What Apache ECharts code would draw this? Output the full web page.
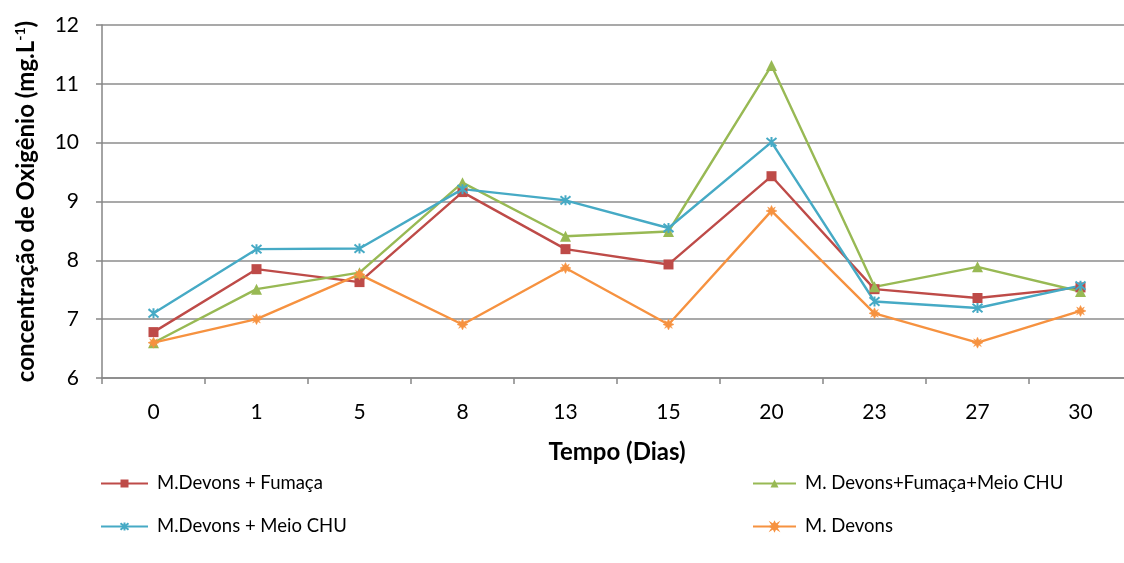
<!DOCTYPE html>
<html>
<head>
<meta charset="utf-8">
<script src="https://cdn.jsdelivr.net/npm/echarts@6/dist/echarts.min.js"></script>
<style>
  html, body { margin: 0; padding: 0; background: #ffffff; }
  #chart { width: 1124px; height: 563px; }
</style>
</head>
<body>
<div id="chart"></div>
<script>
// Sampling days
const days = ['0', '1', '5', '8', '13', '15', '20', '23', '27', '30'];

// Dissolved oxygen (mg/L) per treatment
const fumaca = [6.78, 7.85, 7.63, 9.16, 8.19, 7.93, 9.43, 7.51, 7.36, 7.54];
const fumacaMeioChu = [6.60, 7.51, 7.79, 9.32, 8.41, 8.49, 11.31, 7.55, 7.89, 7.47];
const meioChu = [7.10, 8.19, 8.20, 9.21, 9.02, 8.55, 10.01, 7.30, 7.19, 7.57];
const devons = [6.60, 7.00, 7.76, 6.91, 7.87, 6.91, 8.84, 7.10, 6.60, 7.14];

const seriesNames = [
  'M.Devons + Fumaça',
  'M. Devons+Fumaça+Meio CHU',
  'M.Devons + Meio CHU',
  'M. Devons'
];

const FONT = 'Lato, "Open Sans", sans-serif';

// Marker shapes
const asterisk = 'path://M-5,-5L5,5M5,-5L-5,5M0,-6L0,6';
const star8 = 'path://M0,-6L1.6,-2.6L4.2,-4.2L2.6,-1.6L6,0L2.6,1.6L4.2,4.2L1.6,2.6L0,6L-1.6,2.6L-4.2,4.2L-2.6,1.6L-6,0L-2.6,-1.6L-4.2,-4.2L-1.6,-2.6Z';

function lineSeries(name, data, color, symbol, size, stroke) {
  return {
    name: name,
    type: 'line',
    data: data,
    symbol: symbol,
    symbolSize: size,
    showAllSymbol: true,
    lineStyle: { color: color, width: 2.4 },
    itemStyle: { color: color, borderColor: color, borderWidth: stroke },
    emphasis: { disabled: true },
    animation: false
  };
}

const legendText = { fontFamily: FONT, fontSize: 18.5, color: '#000', padding: [0, 0, 0, 4] };

const chart = echarts.init(document.getElementById('chart'));
chart.setOption({
  backgroundColor: '#ffffff',
  textStyle: { fontFamily: FONT },
  grid: { left: 102, top: 25, width: 1030, height: 353, containLabel: false, outerBoundsMode: 'none' },
  legend: [
    {
      orient: 'vertical', left: 100, top: 474, itemGap: 24, padding: 0,
      itemWidth: 47, itemHeight: 10,
      data: [seriesNames[0], seriesNames[2]],
      textStyle: legendText
    },
    {
      orient: 'vertical', left: 752, top: 474, itemGap: 24, padding: 0,
      itemWidth: 43, itemHeight: 10,
      data: [seriesNames[1], seriesNames[3]],
      textStyle: legendText
    }
  ],
  xAxis: {
    type: 'category',
    data: days,
    boundaryGap: true,
    name: 'Tempo (Dias)',
    nameLocation: 'middle',
    nameGap: 62,
    nameTextStyle: { fontFamily: FONT, fontSize: 24, fontWeight: 'bold', color: '#000' },
    axisLine: { lineStyle: { color: '#868686', width: 1.5 } },
    axisTick: { show: true, length: 6, interval: 0, lineStyle: { color: '#868686', width: 1.5 } },
    axisLabel: { fontFamily: FONT, fontSize: 21, color: '#000', margin: 24 },
    splitLine: { show: false }
  },
  yAxis: {
    type: 'value',
    min: 6, max: 12, interval: 1,
    name: 'concentração de Oxigênio (mg.L{sup|-1})',
    nameLocation: 'middle',
    nameGap: 63,
    nameTextStyle: {
      fontFamily: FONT, fontSize: 24, fontWeight: 'bold', color: '#000',
      rich: { sup: { fontFamily: FONT, fontSize: 14, fontWeight: 'bold', color: '#000', verticalAlign: 'top', padding: [0, 0, 12, 0] } }
    },
    axisLine: { show: true, lineStyle: { color: '#868686', width: 1.5 } },
    axisTick: { show: true, length: 6, lineStyle: { color: '#868686', width: 1.5 } },
    axisLabel: { fontFamily: FONT, fontSize: 21, color: '#000', margin: 23 },
    splitLine: { show: true, lineStyle: { color: '#8c8c8c', width: 1.5 } }
  },
  series: [
    lineSeries(seriesNames[0], fumaca, '#BE4B48', 'rect', 10, 0),
    lineSeries(seriesNames[1], fumacaMeioChu, '#98B954', 'triangle', 11, 0),
    lineSeries(seriesNames[2], meioChu, '#46AAC5', asterisk, 10, 2),
    lineSeries(seriesNames[3], devons, '#F69240', star8, 11, 0.5)
  ]
});
</script>
</body>
</html>
